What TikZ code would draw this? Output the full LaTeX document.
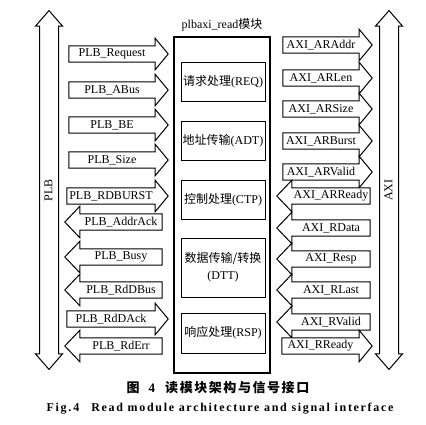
\documentclass[tikz,border=0pt]{standalone}
\usepackage{fontspec}
\setmainfont{Liberation Serif}
\newfontfamily\cjk{Noto Sans CJK SC}
\newfontfamily\cjkcap[LetterSpace=12]{Noto Sans CJK SC}
\newfontfamily\capfont[LetterSpace=14]{Liberation Serif}
\usepackage{tikz}
\usetikzlibrary{positioning,shapes.arrows,backgrounds}
\newcommand\sigfont{\fontsize{12}{17}\selectfont}
\tikzset{
  sig/.style    ={rectangle,inner sep=0pt,minimum height=16pt,minimum width=#1,
                  font=\sigfont},
  sigline/.style={draw=black,line width=1pt,fill=white,line join=miter},
  bus/.style    ={double arrow,draw=black,line width=1pt,fill=white,rotate=90,
                  inner xsep=0pt,inner ysep=2.75pt,text height=9.5pt,text depth=3pt,
                  text width=336pt,align=center,double arrow head extend=4pt,
                  double arrow tip angle=82,font=\sigfont},
  unit/.style   ={rectangle,draw=black,line width=1pt,minimum width=84pt,
                  minimum height=39pt,inner sep=0pt,align=center,font=\sigfont},
}
% outline of a signal arrow round its label node
\newcommand\headr[1]{%
  \path[sigline] (#1.north west) -- (#1.north east) -- ([yshift=7.5pt]#1.north east)
    -- ([xshift=13pt]#1.east) -- ([yshift=-7.5pt]#1.south east) -- (#1.south east)
    -- (#1.south west) -- cycle;}
\newcommand\headl[1]{%
  \path[sigline] (#1.north east) -- (#1.north west) -- ([yshift=7.5pt]#1.north west)
    -- ([xshift=-15pt]#1.west) -- ([yshift=-7.5pt]#1.south west) -- (#1.south west)
    -- (#1.south east) -- cycle;}

\begin{document}
\begin{tikzpicture}[x=1pt,y=-1pt]
  \useasboundingbox (0,0) rectangle (426,424);

  % ---- buses -----------------------------------------------------------
  \node[bus] (plb) at (49,190) {PLB};
  \node[bus] (axi) at (389,190) {AXI};

  % ---- module ----------------------------------------------------------
  \node[draw=black,line width=1.2pt,minimum width=96pt,minimum height=336pt,
        inner sep=0pt] (mod) at (222,205) {};
  \node[font=\sigfont] (modname) at (222,25) {plbaxi\_read{\cjk 模块}};
  \node[unit] (req) at (223,81.5) {{\cjk 请求处理}(REQ)};
  \node[unit] (adt) at (223,140.5) {{\cjk 地址传输}(ADT)};
  \node[unit] (ctp) at (223,199.5) {{\cjk 控制处理}(CTP)};
  \node[unit,minimum height=59pt] (dtt) at (223,267.5) {{\cjk 数据传输/转换}\\(DTT)};
  \node[unit,minimum height=40pt] (rsp) at (223,333) {{\cjk 响应处理}(RSP)};

  % ---- PLB side --------------------------------------------------------
  \node[sig=86pt] (pReq) at (112,54) {PLB\_Request};
  \node[sig=86pt] (pABus) at (112,90) {PLB\_ABus};
  \node[sig=86pt] (pBE) at (112,125) {PLB\_BE};
  \node[sig=86pt] (pSize) at (112,160) {PLB\_Size};
  \node[sig=88pt] (pBurst) at (111,196) {PLB\_RDBURST};
  \node[sig=82pt] (pAddrAck) at (121,222) {PLB\_AddrAck};
  \node[sig=82pt] (pBusy) at (121,257) {PLB\_Busy};
  \node[sig=82pt] (pDBus) at (121,290) {PLB\_RdDBus};
  \node[sig=88pt] (pDAck) at (111,319) {PLB\_RdDAck};
  \node[sig=82pt] (pErr) at (121,346) {PLB\_RdErr};

  % ---- AXI side --------------------------------------------------------
  \node[sig=76pt] (aAddr) at (321,45) {AXI\_ARAddr};
  \node[sig=76pt] (aLen) at (321,78) {AXI\_ARLen};
  \node[sig=76pt] (aSize) at (321,109) {AXI\_ARSize};
  \node[sig=76pt] (aBurst) at (321,141) {AXI\_ARBurst};
  \node[sig=76pt] (aValid) at (321,172) {AXI\_ARValid};
  \node[sig=78pt] (aReady) at (331,196) {AXI\_ARReady};
  \node[sig=78pt] (rData) at (331,228) {AXI\_RData};
  \node[sig=78pt] (rResp) at (331,259) {AXI\_Resp};
  \node[sig=78pt] (rLast) at (331,290) {AXI\_RLast};
  \node[sig=78pt] (rValid) at (331,322) {AXI\_RValid};
  \node[sig=77pt] (rReady) at (320.5,346) {AXI\_RReady};

  \begin{scope}[on background layer]
    \headr{pReq} \headr{pABus} \headr{pBE} \headr{pSize} \headr{pBurst}
    \headl{pAddrAck} \headl{pBusy} \headl{pDBus} \headr{pDAck} \headl{pErr}
    \headr{aAddr} \headr{aLen} \headr{aSize} \headr{aBurst} \headr{aValid}
    \headl{aReady} \headl{rData} \headl{rResp} \headl{rLast} \headl{rValid}
    \headr{rReady}
  \end{scope}

  % ---- caption ---------------------------------------------------------
  \node[font=\fontsize{13}{13}\selectfont] (capzh) at (218,388)
    {{\cjk\bfseries 图}\hspace{9pt}\textbf{4}\hspace{10pt}{\cjkcap\bfseries 读模块架构与信号接口}};
  \node[font=\fontsize{12}{12}\selectfont] (capen) at (220,409)
    {\capfont\bfseries Fig.\,4\quad Read module architecture and signal interface};
\end{tikzpicture}
\end{document}
